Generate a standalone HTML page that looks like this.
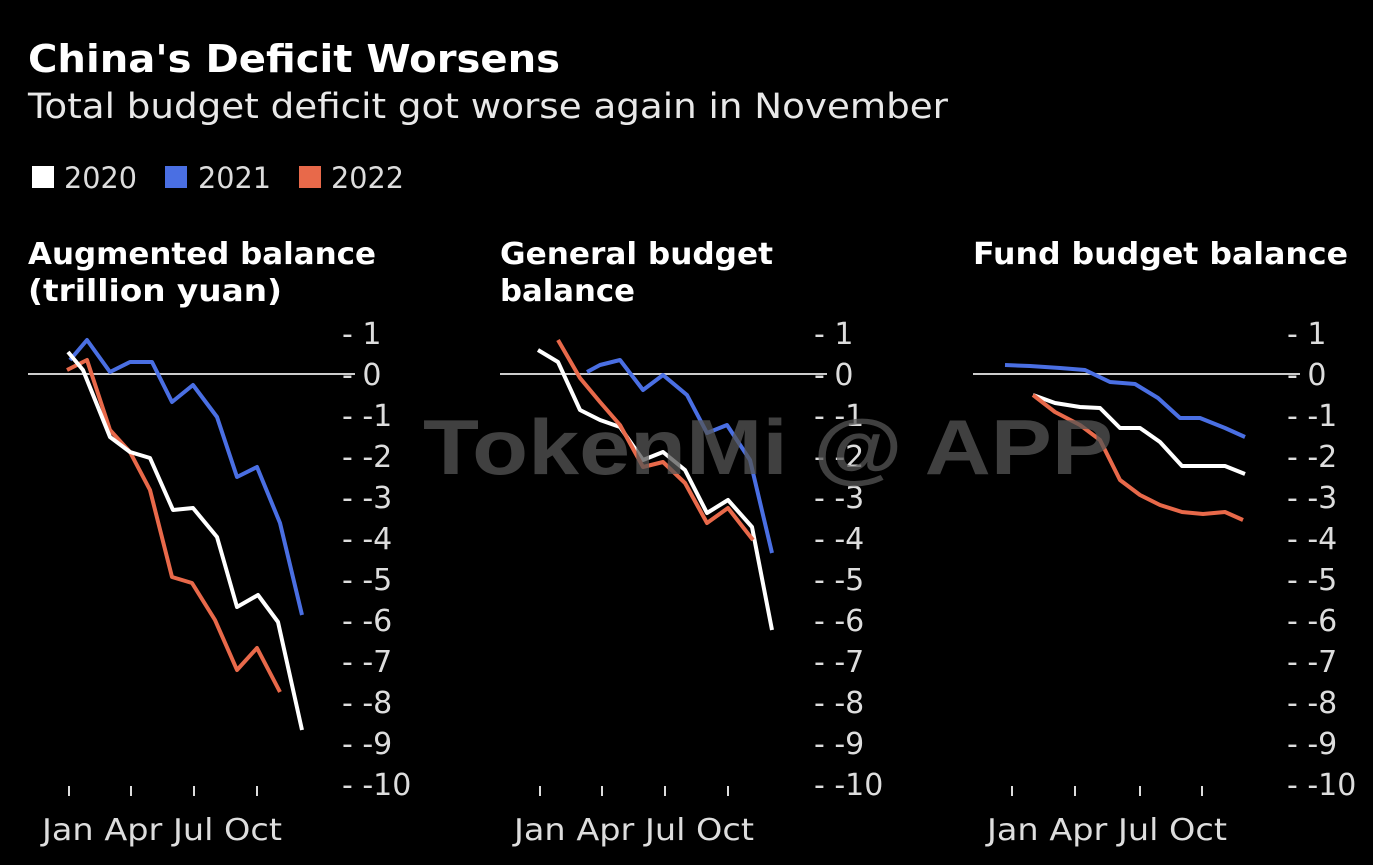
<!DOCTYPE html>
<html><head><meta charset="utf-8"><style>
body{margin:0;background:#000;width:1373px;height:865px;overflow:hidden;}
svg{display:block}
</style></head><body>
<svg width="1373" height="865" xmlns="http://www.w3.org/2000/svg" font-family="DejaVu Sans, Liberation Sans, sans-serif">
<rect width="1373" height="865" fill="#000"/>
<text x="28" y="72" fill="#fff" font-size="38" font-weight="bold" textLength="532" lengthAdjust="spacingAndGlyphs">China's Deficit Worsens</text>
<text x="28" y="118" fill="#e8e8e8" font-size="35" textLength="920" lengthAdjust="spacingAndGlyphs">Total budget deficit got worse again in November</text>
<rect x="32" y="166" width="22" height="22" fill="#fff"/><text x="64" y="188" fill="#ddd" font-size="29" textLength="73" lengthAdjust="spacingAndGlyphs">2020</text>
<rect x="165" y="166" width="22" height="22" fill="#4a6fe3"/><text x="198" y="188" fill="#ddd" font-size="29" textLength="73" lengthAdjust="spacingAndGlyphs">2021</text>
<rect x="299" y="166" width="22" height="22" fill="#e8694a"/><text x="331" y="188" fill="#ddd" font-size="29" textLength="73" lengthAdjust="spacingAndGlyphs">2022</text>
<g fill="#fff" font-size="30" font-weight="bold">
<text x="28" y="264" textLength="348" lengthAdjust="spacingAndGlyphs">Augmented balance</text><text x="28" y="301" textLength="254" lengthAdjust="spacingAndGlyphs">(trillion yuan)</text>
<text x="500" y="264" textLength="273" lengthAdjust="spacingAndGlyphs">General budget</text><text x="500" y="301" textLength="135" lengthAdjust="spacingAndGlyphs">balance</text>
<text x="973" y="264" textLength="375" lengthAdjust="spacingAndGlyphs">Fund budget balance</text>
</g>
<g stroke="#ccc" stroke-width="2">
<line x1="28" y1="374" x2="355" y2="374"/><line x1="500" y1="374" x2="827" y2="374"/><line x1="973" y1="374" x2="1300" y2="374"/>
</g>
<g fill="#ddd" font-size="30">
<g id="lab1">
<text x="342" y="344">- 1</text><text x="342" y="385">- 0</text><text x="342" y="426">- -1</text><text x="342" y="467">- -2</text><text x="342" y="508">- -3</text><text x="342" y="549">- -4</text><text x="342" y="590">- -5</text><text x="342" y="631">- -6</text><text x="342" y="672">- -7</text><text x="342" y="713">- -8</text><text x="342" y="754">- -9</text><text x="342" y="795">- -10</text>
</g>
<use href="#lab1" x="472"/>
<use href="#lab1" x="945"/>
<text x="42" y="840" textLength="240" lengthAdjust="spacingAndGlyphs">Jan Apr Jul Oct</text><text x="514" y="840" textLength="240" lengthAdjust="spacingAndGlyphs">Jan Apr Jul Oct</text><text x="987" y="840" textLength="240" lengthAdjust="spacingAndGlyphs">Jan Apr Jul Oct</text>
</g>
<g stroke="#ddd" stroke-width="2">
<path d="M69 786v10M131 786v10M194 786v10M257 786v10M540 786v10M602 786v10M665 786v10M728 786v10M1012 786v10M1075 786v10M1140 786v10M1202 786v10"/>
</g>
<g fill="none" stroke-width="4" stroke-linejoin="round">
<polyline stroke="#e8694a" points="67,370 87,360 110,430 130,452 150,490 172,577 192,583 215,620 237,670 257,648 280,692"/>
<polyline stroke="#4a6fe3" points="70,360 87,340 110,372 130,362 152,362 172,402 193,385 217,417 237,477 257,467 280,523 302,615"/>
<polyline stroke="#fff" points="68,352 83,370 110,437 130,452 150,458 173,510 193,508 217,537 237,607 258,595 278,622 302,730"/>
<polyline stroke="#4a6fe3" points="587,372 600,365 620,360 643,390 663,375 687,395 707,433 727,425 750,460 772,553"/>
<polyline stroke="#fff" points="538,350 558,362 580,410 600,420 620,427 643,460 663,452 685,470 707,513 728,500 752,527 772,630"/>
<polyline stroke="#e8694a" points="558,340 580,378 600,402 620,425 643,467 663,462 685,483 707,523 728,508 753,540"/>
<polyline stroke="#4a6fe3" points="1005,365 1030,366 1060,368 1085,370 1110,382 1135,384 1158,398 1180,418 1200,418 1225,428 1245,437"/>
<polyline stroke="#fff" points="1033,395 1055,403 1080,407 1100,408 1120,428 1140,428 1160,442 1182,466 1203,466 1225,466 1245,474"/>
<polyline stroke="#e8694a" points="1033,395 1055,412 1080,425 1100,440 1120,480 1140,495 1160,505 1182,512 1203,514 1225,512 1243,520"/>
</g>
<text x="768" y="474" fill="#555" fill-opacity="0.75" font-size="78" font-weight="bold" text-anchor="middle" font-family="Liberation Sans, sans-serif" textLength="690" lengthAdjust="spacingAndGlyphs">TokenMi @ APP</text>
</svg>
</body></html>
